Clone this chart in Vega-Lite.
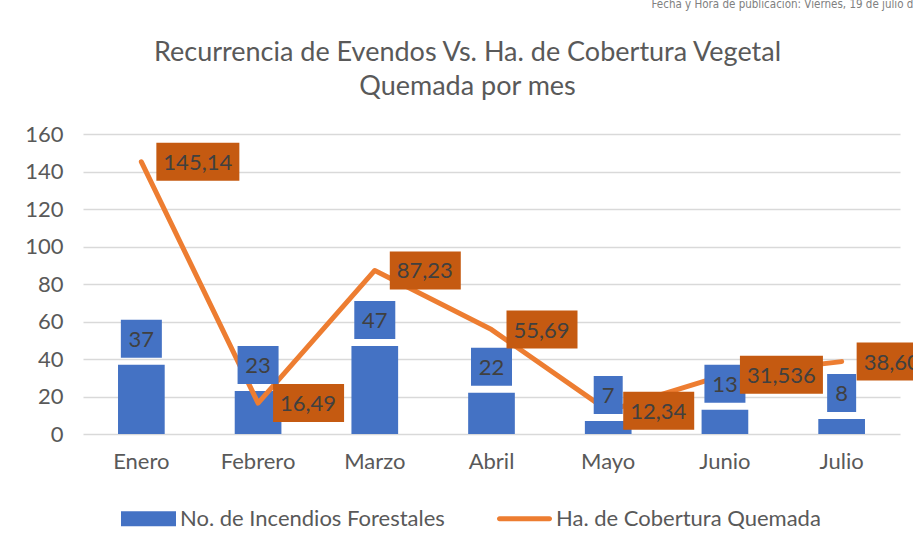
{
  "$schema": "https://vega.github.io/schema/vega-lite/v6.json",
  "width": 817,
  "height": 300,
  "autosize": {"type": "none"},
  "padding": {"left": 83, "top": 134, "right": 13, "bottom": 115},
  "background": "white",
  "data": {
    "values": [
      {"mes": "Enero", "incendios": 37, "ha": 145.14, "ha_lbl": "145,14"},
      {"mes": "Febrero", "incendios": 23, "ha": 16.49, "ha_lbl": "16,49"},
      {"mes": "Marzo", "incendios": 47, "ha": 87.23, "ha_lbl": "87,23"},
      {"mes": "Abril", "incendios": 22, "ha": 55.69, "ha_lbl": "55,69"},
      {"mes": "Mayo", "incendios": 7, "ha": 12.34, "ha_lbl": "12,34"},
      {"mes": "Junio", "incendios": 13, "ha": 31.536, "ha_lbl": "31,536"},
      {"mes": "Julio", "incendios": 8, "ha": 38.605, "ha_lbl": "38,605"}
    ]
  },
  "resolve": {"axis": {"x": "independent"}},
  "layer": [
    {
      "mark": {"type": "bar", "width": {"band": 0.4}, "color": "#4472C4"},
      "encoding": {
        "x": {
          "field": "mes", "type": "nominal", "sort": null,
          "scale": {"paddingInner": 0, "paddingOuter": 0},
          "axis": {"orient": "bottom", "title": null, "labelAngle": 0, "ticks": false, "domain": false, "grid": false,
                   "labelFont": "Lato", "labelFontSize": 22, "labelColor": "#595959", "labelPadding": 17}
        },
        "y": {
          "field": "incendios", "type": "quantitative",
          "scale": {"domain": [0, 160], "nice": false},
          "axis": {"values": [0, 20, 40, 60, 80, 100, 120, 140, 160], "tickCount": 9, "domain": false, "ticks": false,
                   "labelOverlap": false, "labelFont": "Lato", "labelFontSize": 22, "labelColor": "#595959", "labelPadding": 20,
                   "gridColor": "#D9D9D9", "gridWidth": 1.3,
                   "title": "Fecha y Hora de publicación: Viernes, 19 de julio de 2024",
                   "titleFont": "Liberation Sans Narrow, DejaVu Sans Condensed, sans-serif",
                   "titleFontSize": 11.5, "titleFontWeight": "normal", "titleColor": "#808080",
                   "titleAngle": 0, "titleX": 568, "titleY": -127, "titleAlign": "left", "titleBaseline": "alphabetic"}
        },
        "color": {
          "datum": "No. de Incendios Forestales",
          "scale": {"domain": ["No. de Incendios Forestales", "Ha. de Cobertura Quemada"], "range": ["#4472C4", "#ED7D31"]},
          "legend": {
            "orient": "none", "legendX": 38, "legendY": 357, "direction": "horizontal", "title": null,
            "symbolSize": 3025, "labelFont": "Lato", "labelFontSize": 22, "labelColor": "#595959", "labelLimit": 500,
            "labelOffset": 4, "columnPadding": 51, "padding": 0, "rowPadding": 0, "symbolStrokeWidth": 0,
            "encode": {
              "symbols": {
                "update": {
                  "shape": {"signal": "datum.value === 'No. de Incendios Forestales' ? 'M-1,-0.27H1V0.27H-1Z' : 'M-0.91,-0.09H0.91A0.09,0.09 0 0 1 0.91,0.09H-0.91A0.09,0.09 0 0 1 -0.91,-0.09Z'"},
                  "fill": {"signal": "scale('color', datum.value)"},
                  "stroke": {"value": "transparent"},
                  "opacity": {"value": 1},
                  "fillOpacity": {"value": 1}
                }
              }
            }
          }
        }
      }
    },
    {
      "mark": {"type": "line", "strokeWidth": 5, "strokeCap": "round", "strokeJoin": "round"},
      "encoding": {
        "x": {
          "field": "mes", "type": "nominal", "sort": null,
          "axis": {"orient": "top", "labels": false, "ticks": false, "domain": false, "grid": false,
                   "title": ["Recurrencia de Evendos Vs. Ha. de Cobertura Vegetal", "Quemada por mes"],
                   "titleFont": "Lato", "titleFontSize": 27, "titleFontWeight": "normal", "titleColor": "#595959",
                   "titleLineHeight": 34,
                   "titleX": 384, "titleY": -74, "titleAlign": "center", "titleBaseline": "alphabetic", "titleAngle": 0}
        },
        "y": {
          "field": "ha", "type": "quantitative",
          "axis": {"values": [0, 20, 40, 60, 80, 100, 120, 140, 160], "tickCount": 9, "domain": false, "ticks": false,
                   "labelOverlap": false, "labelFont": "Lato", "labelFontSize": 22, "labelColor": "#595959", "labelPadding": 20,
                   "gridColor": "#D9D9D9", "gridWidth": 1.3,
                   "title": "Fecha y Hora de publicación: Viernes, 19 de julio de 2024",
                   "titleFont": "Liberation Sans Narrow, DejaVu Sans Condensed, sans-serif",
                   "titleFontSize": 11.5, "titleFontWeight": "normal", "titleColor": "#808080",
                   "titleAngle": 0, "titleX": 568, "titleY": -127, "titleAlign": "left", "titleBaseline": "alphabetic"}
        },
        "color": {
          "datum": "Ha. de Cobertura Quemada",
          "scale": {"domain": ["No. de Incendios Forestales", "Ha. de Cobertura Quemada"], "range": ["#4472C4", "#ED7D31"]}
        }
      }
    },
    {
      "transform": [{"filter": "datum.incendios >= 10"}],
      "mark": {"type": "point", "shape": "M-2.05,-4.5H2.05V-0.7H-2.05Z", "size": 400, "filled": true, "color": "#4472C4", "opacity": 1, "strokeWidth": 0},
      "encoding": {
        "x": {"field": "mes", "type": "nominal", "sort": null, "axis": null},
        "y": {
          "field": "incendios", "type": "quantitative",
          "axis": {"values": [0, 20, 40, 60, 80, 100, 120, 140, 160], "tickCount": 9, "domain": false, "ticks": false,
                   "labelOverlap": false, "labelFont": "Lato", "labelFontSize": 22, "labelColor": "#595959", "labelPadding": 20,
                   "gridColor": "#D9D9D9", "gridWidth": 1.3,
                   "title": "Fecha y Hora de publicación: Viernes, 19 de julio de 2024",
                   "titleFont": "Liberation Sans Narrow, DejaVu Sans Condensed, sans-serif",
                   "titleFontSize": 11.5, "titleFontWeight": "normal", "titleColor": "#808080",
                   "titleAngle": 0, "titleX": 568, "titleY": -127, "titleAlign": "left", "titleBaseline": "alphabetic"}
        }
      }
    },
    {
      "transform": [{"filter": "datum.incendios < 10"}],
      "mark": {"type": "point", "shape": "M-1.45,-4.5H1.45V-0.7H-1.45Z", "size": 400, "filled": true, "color": "#4472C4", "opacity": 1, "strokeWidth": 0},
      "encoding": {
        "x": {"field": "mes", "type": "nominal", "sort": null, "axis": null},
        "y": {
          "field": "incendios", "type": "quantitative",
          "axis": {"values": [0, 20, 40, 60, 80, 100, 120, 140, 160], "tickCount": 9, "domain": false, "ticks": false,
                   "labelOverlap": false, "labelFont": "Lato", "labelFontSize": 22, "labelColor": "#595959", "labelPadding": 20,
                   "gridColor": "#D9D9D9", "gridWidth": 1.3,
                   "title": "Fecha y Hora de publicación: Viernes, 19 de julio de 2024",
                   "titleFont": "Liberation Sans Narrow, DejaVu Sans Condensed, sans-serif",
                   "titleFontSize": 11.5, "titleFontWeight": "normal", "titleColor": "#808080",
                   "titleAngle": 0, "titleX": 568, "titleY": -127, "titleAlign": "left", "titleBaseline": "alphabetic"}
        }
      }
    },
    {
      "transform": [{"filter": "length(datum.ha_lbl) > 5"}],
      "mark": {"type": "point", "shape": "M1.5,-1.9H9.8V1.9H1.5Z", "size": 400, "filled": true, "color": "#C55A11", "opacity": 1, "strokeWidth": 0},
      "encoding": {
        "x": {"field": "mes", "type": "nominal", "sort": null, "axis": null},
        "y": {
          "field": "ha", "type": "quantitative",
          "axis": {"values": [0, 20, 40, 60, 80, 100, 120, 140, 160], "tickCount": 9, "domain": false, "ticks": false,
                   "labelOverlap": false, "labelFont": "Lato", "labelFontSize": 22, "labelColor": "#595959", "labelPadding": 20,
                   "gridColor": "#D9D9D9", "gridWidth": 1.3,
                   "title": "Fecha y Hora de publicación: Viernes, 19 de julio de 2024",
                   "titleFont": "Liberation Sans Narrow, DejaVu Sans Condensed, sans-serif",
                   "titleFontSize": 11.5, "titleFontWeight": "normal", "titleColor": "#808080",
                   "titleAngle": 0, "titleX": 568, "titleY": -127, "titleAlign": "left", "titleBaseline": "alphabetic"}
        }
      }
    },
    {
      "transform": [{"filter": "length(datum.ha_lbl) <= 5"}],
      "mark": {"type": "point", "shape": "M1.5,-1.9H8.6V1.9H1.5Z", "size": 400, "filled": true, "color": "#C55A11", "opacity": 1, "strokeWidth": 0},
      "encoding": {
        "x": {"field": "mes", "type": "nominal", "sort": null, "axis": null},
        "y": {
          "field": "ha", "type": "quantitative",
          "axis": {"values": [0, 20, 40, 60, 80, 100, 120, 140, 160], "tickCount": 9, "domain": false, "ticks": false,
                   "labelOverlap": false, "labelFont": "Lato", "labelFontSize": 22, "labelColor": "#595959", "labelPadding": 20,
                   "gridColor": "#D9D9D9", "gridWidth": 1.3,
                   "title": "Fecha y Hora de publicación: Viernes, 19 de julio de 2024",
                   "titleFont": "Liberation Sans Narrow, DejaVu Sans Condensed, sans-serif",
                   "titleFontSize": 11.5, "titleFontWeight": "normal", "titleColor": "#808080",
                   "titleAngle": 0, "titleX": 568, "titleY": -127, "titleAlign": "left", "titleBaseline": "alphabetic"}
        }
      }
    },
    {
      "mark": {"type": "text", "align": "center", "baseline": "middle", "dy": -25, "font": "Lato", "fontSize": 22, "color": "#404040"},
      "encoding": {
        "x": {"field": "mes", "type": "nominal", "sort": null, "axis": null},
        "y": {
          "field": "incendios", "type": "quantitative",
          "axis": {"values": [0, 20, 40, 60, 80, 100, 120, 140, 160], "tickCount": 9, "domain": false, "ticks": false,
                   "labelOverlap": false, "labelFont": "Lato", "labelFontSize": 22, "labelColor": "#595959", "labelPadding": 20,
                   "gridColor": "#D9D9D9", "gridWidth": 1.3,
                   "title": "Fecha y Hora de publicación: Viernes, 19 de julio de 2024",
                   "titleFont": "Liberation Sans Narrow, DejaVu Sans Condensed, sans-serif",
                   "titleFontSize": 11.5, "titleFontWeight": "normal", "titleColor": "#808080",
                   "titleAngle": 0, "titleX": 568, "titleY": -127, "titleAlign": "left", "titleBaseline": "alphabetic"}
        },
        "text": {"field": "incendios", "type": "quantitative"}
      }
    },
    {
      "mark": {"type": "text", "align": "left", "baseline": "middle", "dx": 22, "dy": 1, "font": "Lato", "fontSize": 22, "color": "#404040"},
      "encoding": {
        "x": {"field": "mes", "type": "nominal", "sort": null, "axis": null},
        "y": {
          "field": "ha", "type": "quantitative",
          "axis": {"values": [0, 20, 40, 60, 80, 100, 120, 140, 160], "tickCount": 9, "domain": false, "ticks": false,
                   "labelOverlap": false, "labelFont": "Lato", "labelFontSize": 22, "labelColor": "#595959", "labelPadding": 20,
                   "gridColor": "#D9D9D9", "gridWidth": 1.3,
                   "title": "Fecha y Hora de publicación: Viernes, 19 de julio de 2024",
                   "titleFont": "Liberation Sans Narrow, DejaVu Sans Condensed, sans-serif",
                   "titleFontSize": 11.5, "titleFontWeight": "normal", "titleColor": "#808080",
                   "titleAngle": 0, "titleX": 568, "titleY": -127, "titleAlign": "left", "titleBaseline": "alphabetic"}
        },
        "text": {"field": "ha_lbl", "type": "nominal"}
      }
    }
  ],
  "config": {"view": {"stroke": null}}
}
